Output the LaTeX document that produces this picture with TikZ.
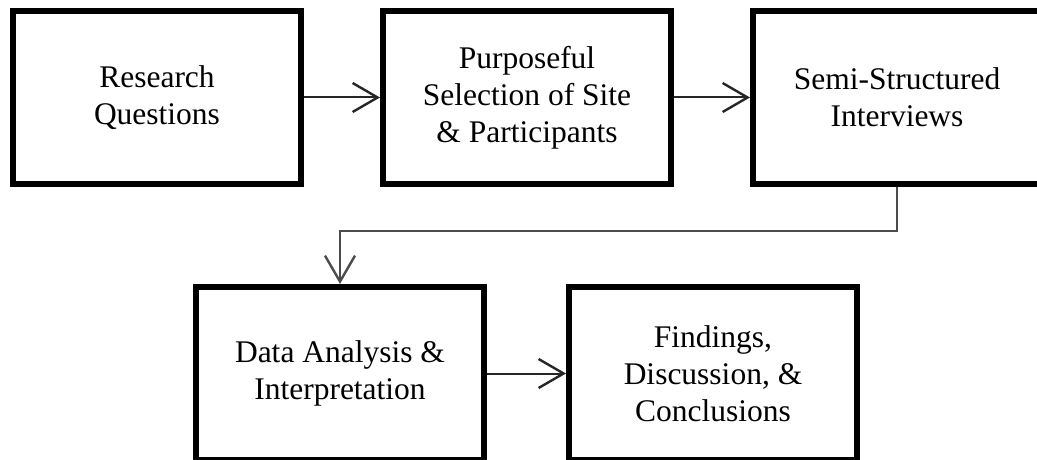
\documentclass[tikz,border=0pt]{standalone}
\usepackage{fontspec}
\setmainfont{Liberation Serif}
\usetikzlibrary{arrows.meta}
\tikzset{
  stagebox/.style={draw=black, line width=6pt, minimum width=288pt, minimum height=173pt,
    inner sep=0pt, align=center, font=\fontsize{31.5}{37}\selectfont},
  flowarrow/.style={line width=2pt, draw=black!85, -{Straight Barb[length=25pt,width=29pt,line width=2.4pt]}},
  linkarrow/.style={line width=1.5pt, draw=black!70, -{Straight Barb[length=26pt,width=30pt,line width=2.4pt]}}
}
\begin{document}
\begin{tikzpicture}[x=1pt,y=-1pt]
\useasboundingbox (0,0) rectangle (1037,460);
\clip (0,0) rectangle (1037,460);
\node[stagebox] (rq) at (157,97.5) {Research\\Questions};
\node[stagebox] (ps) at (527,97.5) {Purposeful\\Selection of Site\\\& Participants};
\node[stagebox] (ssi) at (897,97.5) {Semi-Structured\\Interviews};
\node[stagebox] (da) at (340,373.5) {Data Analysis \&\\Interpretation};
\node[stagebox] (fd) at (713,373.5) {Findings,\\Discussion, \&\\Conclusions};
\coordinate (turn) at (0,231);
\draw[flowarrow] (rq) -- (ps);
\draw[flowarrow] (ps) -- (ssi);
\draw[linkarrow] (ssi.south) |- (turn -| da.north) -- (da.north);
\draw[flowarrow] (da) -- (fd);
\end{tikzpicture}
\end{document}
